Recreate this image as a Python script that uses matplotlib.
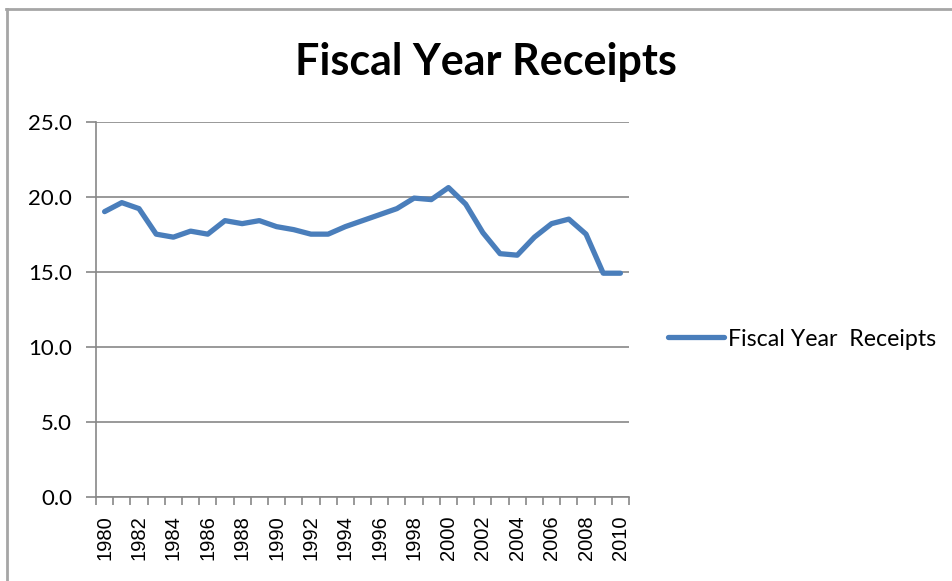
"""Line chart of fiscal year receipts, 1980-2010."""

import matplotlib

matplotlib.use("Agg")

import matplotlib.pyplot as plt
import numpy as np
from matplotlib.lines import Line2D

# receipts as percent of GDP
years = list(range(1980, 2011))
receipts = [
    19.0, 19.6, 19.2, 17.5, 17.3, 17.7, 17.5, 18.4, 18.2, 18.4,
    18.0, 17.8, 17.5, 17.5, 18.0, 18.4, 18.8, 19.2, 19.9, 19.8,
    20.6, 19.5, 17.6, 16.2, 16.1, 17.3, 18.2, 18.5, 17.5, 14.9,
    14.9,
]
series_name = "Fiscal Year  Receipts"
title = "Fiscal Year Receipts"
y_ticks = [0, 5, 10, 15, 20, 25]

LINE_BLUE = "#4a7ebb"
GRID_GRAY = "#878787"
FRAME_GRAY = "#a6a6a6"

plt.rcParams["font.family"] = ["Lato", "DejaVu Sans"]

W, H = 953, 581
fig = plt.figure(figsize=(W / 100, H / 100), dpi=100)
ax = fig.add_axes([96 / W, 1 - 497 / H, (629 - 96) / W, (497 - 121.5) / H])

x = np.arange(len(years))
ax.plot(x, receipts, color=LINE_BLUE, lw=3.8, solid_joinstyle="round",
        solid_capstyle="round", label=series_name, zorder=3)

# value axis
ax.set_ylim(0, 25)
ax.set_yticks(y_ticks)
ax.set_yticklabels([f"{v:.1f}" for v in y_ticks])
ax.yaxis.grid(True, color=GRID_GRAY, lw=1.2)
ax.tick_params(axis="y", direction="out", length=7.2, width=1.2,
               color=GRID_GRAY, labelsize=16, pad=10, labelcolor="black")

# category axis: tick marks between categories, labels every other year
ax.set_xlim(-0.5, len(years) - 0.5)
ax.set_xticks(x[::2])
ax.set_xticklabels([str(y) for y in years[::2]], rotation=90,
                   family=["Liberation Sans", "DejaVu Sans"])
ax.set_xticks(np.arange(-0.5, len(years)), minor=True)
ax.tick_params(axis="x", which="major", length=0, labelsize=14.5, pad=13)
ax.tick_params(axis="x", which="minor", direction="out", length=6,
               width=1.2, color=GRID_GRAY)

for side in ("top", "right"):
    ax.spines[side].set_visible(False)
for side in ("left", "bottom"):
    ax.spines[side].set_color(GRID_GRAY)
    ax.spines[side].set_linewidth(1.2)
ax.set_axisbelow(True)

fig.text(486 / W, 1 - 75 / H, title, ha="center", va="baseline",
         fontsize=31, fontweight="bold")

ax.legend(loc="center left", bbox_to_anchor=(668 / W, 1 - 339 / H),
          bbox_transform=fig.transFigure, frameon=False, fontsize=16.7,
          borderpad=0, borderaxespad=0, handlelength=2.4,
          handletextpad=0.2)

# chart area frame
fig.add_artist(Line2D([7 / W, 7 / W], [0, 1 - 8.5 / H], color=FRAME_GRAY,
                      lw=2, transform=fig.transFigure))
fig.add_artist(Line2D([6 / W, 1], [1 - 8.5 / H, 1 - 8.5 / H],
                      color=FRAME_GRAY, lw=2, transform=fig.transFigure))

fig.savefig("out.png", dpi=100)
